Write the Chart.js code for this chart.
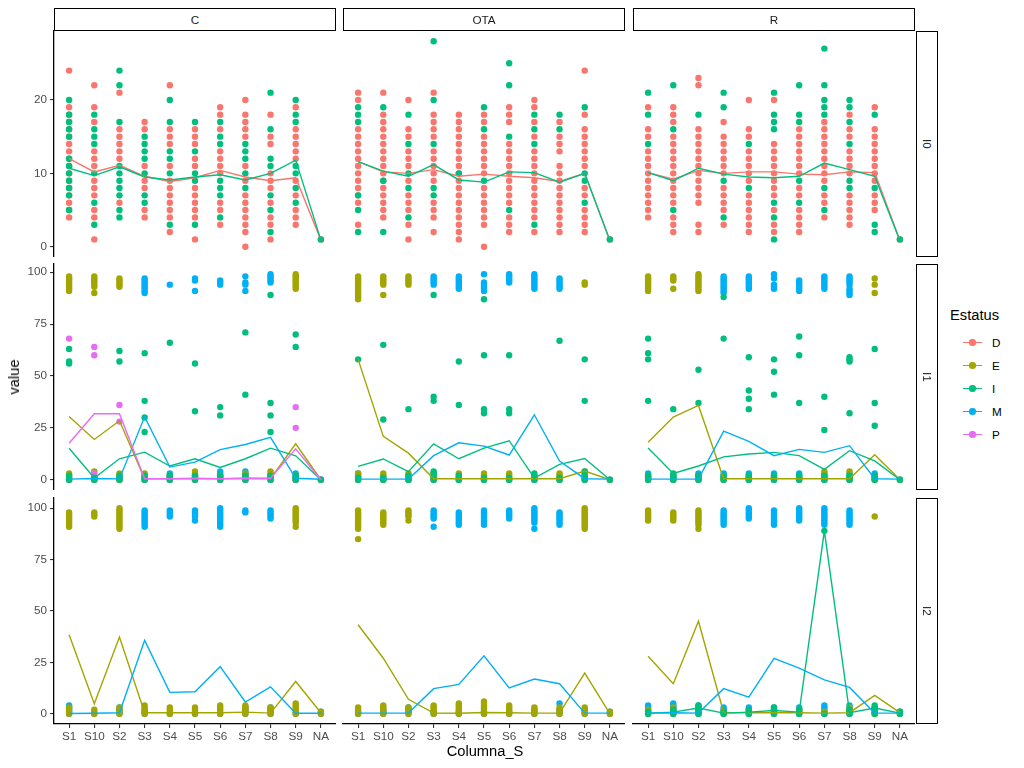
<!DOCTYPE html>
<html><head><meta charset="utf-8">
<script src="https://cdn.jsdelivr.net/npm/chart.js@4.4.0/dist/chart.umd.min.js"></script>
<style>
body{margin:0;background:#fff;width:1024px;height:768px;position:relative;overflow:hidden;font-family:"Liberation Sans",Arial,sans-serif;}
canvas{position:absolute;}
.strip{position:absolute;box-sizing:border-box;border:1.6px solid #000;background:#fff;color:#1a1a1a;font-size:11.7px;display:flex;align-items:center;justify-content:center;}
.vstrip{writing-mode:vertical-rl;}
.title{position:absolute;color:#000;font-size:14.7px;white-space:nowrap;}
.leg{position:absolute;font-size:11.7px;color:#000;}
.kline{position:absolute;height:1.4px;width:19px;}
.kdot{position:absolute;width:6.4px;height:6.4px;border-radius:50%;}
</style></head><body>
<script>
// ---------- categories / facets ----------
const categories = ["S1","S10","S2","S3","S4","S5","S6","S7","S8","S9","NA"];
const columnsF = ["C","OTA","R"];
const rowsF = ["I0","I1","I2"];
const statuses = ["D","E","I","M","P"];
const statusColors = ["#F8766D","#A3A500","#00BF7D","#00B0F6","#E76BF3"];
const yTicksI0 = [0,10,20];
const yTicksPct = [0,25,50,75,100];

// ---------- I0 ----------
const pts_C_I0_D = [[4,5,6,7,8,9,10,11,12,13,14,15,16,17,18,19,24],[1,4,5,7,8,9,11,12,13,17,19,22],[6,12,13,14,15,16,21],[4,5,8,9,11,16,17],[2,4,5,6,7,8,9,11,14,15,16,22],[1,4,5,6,7,8,11,12,14,15,16],[3,5,6,10,11,12,13,16,18,19],[0,2,3,4,5,6,7,9,11,15,16,17,18,20],[1,3,4,6,8,9,10,14,15,18],[3,4,5,7,9,12,13,14,15,16,19],[1]];
const pts_C_I0_I = [[5,7,8,9,10,11,12,15,16,17,18,20],[3,6,10,14,15,16,18],[4,5,7,8,9,10,11,17,22,24],[6,7,10,12,13,14,15],[3,10,12,13,17,20],[3,9,10,13,17],[4,7,8,9,14,15,17],[8,10,12,13,14],[2,5,7,11,12,16,21],[6,8,10,11,17,18,20],[1]];
const mean_C_I0_D = [12.0,10.2,11.1,9.6,8.9,9.4,10.4,9.5,9.0,9.4,0.9];
const mean_C_I0_I = [10.7,9.7,10.9,9.5,9.1,9.5,9.8,9.1,10.0,11.8,0.9];

const pts_OTA_I0_D = [[3,6,7,8,9,10,11,12,13,14,15,16,20,21],[4,5,6,7,8,9,10,11,12,13,14,15,16,17,18,21],[1,3,5,6,7,9,11,12,13,15,16,20],[2,4,5,6,9,10,11,12,13,15,16,17,18,21],[1,2,3,4,5,6,7,8,9,10,11,12,13,14,15,16,17,18],[0,3,4,5,6,7,8,10,11,12,13,14,15,17,18],[2,3,4,6,7,8,9,10,11,12,13,14,17,18,19],[2,4,5,6,7,8,9,10,11,12,13,15,17,19,20],[2,3,4,5,6,7,8,9,10,11,13,14,15,17],[2,3,4,5,7,8,11,12,13,14,15,16,18,24],[1]];
const pts_OTA_I0_I = [[2,5,7,17,18,19],[2,9,19],[4,8,10,14,18],[7,8,14,20,28],[10],[9,16,19],[5,15,22,25],[3,14,16,18],[16,18],[6,9,10,19],[1]];
const mean_OTA_I0_D = [11.6,10.2,10.0,10.5,9.6,9.9,9.6,9.4,8.9,10.0,0.9];
const mean_OTA_I0_I = [11.6,10.3,9.6,11.2,9.1,8.8,10.2,10.1,8.8,10.0,0.8];

const pts_R_I0_D = [[4,5,6,7,8,9,10,11,12,13,15,16,19],[2,3,4,6,7,8,9,10,11,12,13,14,15,17,18,19],[2,3,6,7,8,9,10,11,12,13,14,15,16,22,23],[3,5,6,7,8,10,11,12,13,14,15,17],[2,3,4,5,6,7,9,10,11,12,13,15,16,20],[2,3,5,7,8,9,10,11,12,13,14,20],[2,3,4,5,7,8,10,11,12,13,14,15,16],[4,6,7,9,10,11,12,13,14,15,16,17],[3,4,5,6,7,10,11,12,13,15,16,18],[5,6,7,9,10,11,12,13,14,15,16,19],[1]];
const pts_R_I0_I = [[14,18,21],[5,16,22],[18],[4,9,19,21],[8,14],[1,4,6,16,17,18,21],[6,9,17,18,22],[5,8,18,19,20,22,27],[8,9,14,17,19,20],[2,3,8,18],[1]];
const mean_R_I0_D = [10.1,9.2,10.4,10.0,10.2,10.2,9.9,9.8,10.2,10.1,0.9];
const mean_R_I0_I = [10.1,9.0,10.7,9.9,9.5,9.4,9.6,11.4,10.5,9.6,0.8];

// ---------- I1 ----------
const pts_C_I1_E = [[0,1,2,3,91,92,93,94,95,96,97,98],[0,1,4,90,93,94,95,96,97,98],[0,1,2,3,93,94,95,96,97],[0,1,2,3],[0,1,2],[0,1,2,3,4],[0,1,2],[0,1,2,3],[0,1,2,3,4],[0,1,2,92,93,94,95,96,97,98,99],[0]];
const pts_C_I1_I = [[0,1,2,56,57,63],[0,1],[0,1,2,57,62],[0,1,2,23,30,38,61],[0,1,2,66],[0,1,2,33,56],[0,1,2,31,35],[0,1,2,41,71],[0,1,2,23,31,37,89],[0,1,2,64,70],[0]];
const pts_C_I1_M = [[0],[0,1],[0,1],[0,1,2,90,91,92,93,94,95,96,97],[0,1,2,3,94],[0,1,2,91,96,97],[0,1,2,3,4,94,95,96],[0,1,2,3,4,91,94,95,98],[0,1,2,95,96,97,98,99],[0,1,3],[0]];
const pts_C_I1_P = [[0,68],[3,60,64],[28,36],[0,1],[0,1],[0,1],[0],[0,1],[0,1],[0,25,35],[0]];
const mean_C_I1_E = [30.5,19.4,28.4,0.5,0.5,0.5,0.5,0.5,0.5,17.3,0];
const mean_C_I1_I = [15.2,0.8,10.1,13.3,6.6,10.1,5.9,10.1,15.2,11.5,0];
const mean_C_I1_M = [0.3,0.6,0.4,30.3,6.1,8.5,14.5,17.0,20.4,0.7,0.2];
const mean_C_I1_P = [17.6,31.8,31.8,0.5,0.5,0.7,0.5,0.8,0.7,14.9,0];

const pts_OTA_I1_E = [[0,1,2,3,87,88,89,90,91,92,93,94,95,96,97,98],[0,1,2,3,89,94,95,96,97,98],[0,1,2,3,94,95,96,97,98],[0,1,2,3],[0,1,2,3],[0,1,2,3],[0,1,2,3],[0,1,2],[0,1,2,3],[0,1,2,3,4,94,95],[0]];
const pts_OTA_I1_I = [[0,1,58],[0,1,29,65],[0,1,2,34],[0,1,2,3,4,38,40,89],[0,1,2,36,57],[0,1,32,34,60,87],[0,1,32,34,60],[0,1,2,3],[0,1,67],[0,1,2,4,38,58],[0]];
const pts_OTA_I1_M = [[0,1,2,3],[0],[0],[0,94,95,96,97,98],[0,92,93,94,95,96,97,98],[0,91,92,93,94,95,99],[0,95,96,97,98,99],[0,92,93,94,95,96,97,98,99],[0,92,93,94,95,96,97],[0],[0]];
const mean_OTA_I1_E = [58,20.9,12.8,0.5,0.5,0.5,0.5,0.5,0.5,4.2,0];
const mean_OTA_I1_I = [6.4,10,3.9,17.3,10.1,15.2,18.8,0.8,7.4,10.2,0];
const mean_OTA_I1_M = [0.3,0.3,0.3,11.6,17.8,16.2,11.9,31.3,9,0.5,0.3];

const pts_R_I1_E = [[0,1,2,91,92,93,94,95,96,97,98],[0,1,2,92,96,97,98],[0,1,2,91,92,93,94,95,96,97,98,99],[0,1],[0,1],[0,1],[0,1],[0,1,2,4],[0,1,4],[0,1,90,94,97],[0]];
const pts_R_I1_I = [[0,1,2,38,58,61,68],[0,1,2,3,34],[0,1,2,37,53],[0,1,2,68,88],[0,1,2,34,39,43,59],[0,1,2,41,52,58],[0,1,2,37,60,69],[0,1,2,24,40],[0,1,2,32,57,58,59],[0,1,2,26,37,63],[0]];
const pts_R_I1_M = [[0,1,2,3],[0,1,2],[0,1,2,3],[0,1,2,3,90,91,92,93,94,95,96,97,98],[0,1,2,3,92,93,94,95,96,97,98],[0,1,2,3,92,93,94,97,99],[0,1,2,3,91,92,93,94,95,96],[0,1,2,3,92,93,94,95,96,97,98],[0,1,2,3,89,90,91,92,94,95,96,97,98],[0,1,2,3],[0]];
const mean_R_I1_E = [18.1,30.2,35.8,0.5,0.5,0.5,0.5,0.5,0.5,12,0];
const mean_R_I1_I = [15.3,3,6.6,11,12.4,13.2,11.6,5,14,9.1,0];
const mean_R_I1_M = [0.3,0.3,0.3,23.4,18.5,11.6,14.6,13.2,16.4,0.5,0.3];

// ---------- I2 ----------
const pts_C_I2_E = [[0,1,2,3,91,92,93,94,95,96,97,98],[0,1,2,96,97,98],[0,1,2,3,90,91,92,93,94,95,96,97,98,99,100],[0,1,2,3,4],[0,1,2,3],[0,1,2,3],[0,1,2,3,4],[0,1,2,3,4],[0,1,2,3],[0,1,2,3,4,5,91,93,94,95,96,97,98,99,100],[0,1]];
const pts_C_I2_M = [[0,1,2,3,4],[0],[0,1,2,3],[0,1,2,91,92,93,94,95,96,97,98,99],[0,96,97,98,99],[0,94,96,97,98,99],[0,91,92,93,94,95,96,97,98,99,100],[0,1,2,3,98,99],[0,1,2,3,95,96,97,98,99],[0],[0,1]];
const mean_C_I2_E = [38.4,4.9,37.3,0.5,0.5,0.5,0.5,0.8,0.3,15.7,0.5];
const mean_C_I2_M = [0.1,0.2,0.5,35.7,10.4,10.7,22.9,5.7,13.1,0.2,0.2];

const pts_OTA_I2_E = [[0,1,2,3,85,90,91,92,93,94,95,96,97,98,99],[0,1,2,3,4,92,93,94,95,96,97,98],[0,1,2,3,94,96,97,98,99],[0,1,2,3,4],[0,1,2,3,4,5],[0,1,2,3,4,5,6],[0,1,2,3,4],[0,1,2,3],[0,1,2,3],[0,1,2,3,90,91,92,93,94,95,96,97,98,99,100],[0,1]];
const pts_OTA_I2_M = [[0,1],[0,1,2],[0,1,2,3],[0,1,91,95,96,97,98,99],[0,1,92,93,94,95,96,97,98],[0,1,92,93,94,95,96,97,98,99],[0,1,95,96,97,98,99],[0,1,2,90,93,94,95,96,97,98,99,100],[0,1,2,5,92,93,94,95,96,97,98],[0,1,2],[0,1]];
const mean_OTA_I2_E = [43.3,27,7,0.3,0.2,0.6,0.5,0.3,0.3,19.8,0];
const mean_OTA_I2_M = [0.3,0.3,0.3,12.2,14.3,28.2,12.6,16.9,14.6,0.3,0.3];

const pts_R_I2_E = [[0,1,2,94,95,96,97,98,99],[0,1,2,3,94,95,96,97,98],[0,1,2,3,90,92,93,94,95,96,97,98,99],[0,1],[0,1],[0,1],[0,1,2],[0,1],[0,1,2,3],[0,96],[0,1]];
const pts_R_I2_I = [[0,1],[0,1,2],[0,1,2,3,4],[0,1],[0,1,2],[0,1,2,3],[0,1,2],[0,89],[0,1,2],[0,1,2,3,4],[0,1]];
const pts_R_I2_M = [[0,1,2,3,4],[0,1,2,3,4,5],[0,1,2,3,4],[0,1,2,3,92,93,94,95,96,97,98,99],[0,1,2,3,95,96,97,98,99,100],[0,1,2,3,92,93,94,95,96,97,98,99],[0,1,2,3,94,95,96,97,98,99,100],[0,1,2,3,4,92,93,94,95,96,97,98,99,100],[0,1,2,3,4,92,93,94,95,96,97,98,99],[0,1,2,3],[0,1]];
const mean_R_I2_E = [28,14.6,45,0.5,0.5,0.5,0.5,0.3,0.5,8.9,0.5];
const mean_R_I2_I = [0.3,0.8,2.8,0.3,0.8,1.6,0.8,89,0.5,2.8,0.3];
const mean_R_I2_M = [0.3,0.5,0.3,12.2,8.1,26.9,22.2,16.5,12.8,0.3,0.3];

// ---------- panel table built from the arrays ----------
const panels = [
  [0,0,{D:[pts_C_I0_D,mean_C_I0_D],I:[pts_C_I0_I,mean_C_I0_I]}],
  [1,0,{D:[pts_OTA_I0_D,mean_OTA_I0_D],I:[pts_OTA_I0_I,mean_OTA_I0_I]}],
  [2,0,{D:[pts_R_I0_D,mean_R_I0_D],I:[pts_R_I0_I,mean_R_I0_I]}],
  [0,1,{E:[pts_C_I1_E,mean_C_I1_E],I:[pts_C_I1_I,mean_C_I1_I],M:[pts_C_I1_M,mean_C_I1_M],P:[pts_C_I1_P,mean_C_I1_P]}],
  [1,1,{E:[pts_OTA_I1_E,mean_OTA_I1_E],I:[pts_OTA_I1_I,mean_OTA_I1_I],M:[pts_OTA_I1_M,mean_OTA_I1_M]}],
  [2,1,{E:[pts_R_I1_E,mean_R_I1_E],I:[pts_R_I1_I,mean_R_I1_I],M:[pts_R_I1_M,mean_R_I1_M]}],
  [0,2,{E:[pts_C_I2_E,mean_C_I2_E],M:[pts_C_I2_M,mean_C_I2_M]}],
  [1,2,{E:[pts_OTA_I2_E,mean_OTA_I2_E],M:[pts_OTA_I2_M,mean_OTA_I2_M]}],
  [2,2,{E:[pts_R_I2_E,mean_R_I2_E],I:[pts_R_I2_I,mean_R_I2_I],M:[pts_R_I2_M,mean_R_I2_M]}]
];

// ---------- layout (style only) ----------
const colLeft = [54,343,633], colW = 282;
const rowTop = [31,264,498], rowH = 226;
const YW = 44, XH = 34, PT = 10, PR = 12;
const rowRange = [[-1.4,29.4],[-4.95,103.95],[-5,105]];
const FONT = "'Liberation Sans', Arial, sans-serif";
const pointOrder = {D:20,M:19,E:18,P:17,I:16};
const lineOrder = {D:5,E:4,I:3,M:2,P:1};

function colorOf(s){ return statusColors[statuses.indexOf(s)]; }

function makePanel(ci, ri, series){
  const w = colW+YW+PR, h = rowH+PT+XH;
  const cv = document.createElement('canvas');
  cv.width = w; cv.height = h;
  cv.style.left = (colLeft[ci]-YW)+'px'; cv.style.top = (rowTop[ri]-PT)+'px';
  cv.style.width = w+'px'; cv.style.height = h+'px';
  document.body.appendChild(cv);
  const datasets = [];
  Object.keys(series).forEach(s=>{
    const [pts, means] = series[s];
    const pdata = [];
    pts.forEach((vals,i)=>vals.forEach(v=>pdata.push({x:i,y:v})));
    datasets.push({data:pdata, showLine:false, pointRadius:3.2, pointBorderWidth:0, pointBackgroundColor:colorOf(s), borderColor:colorOf(s), order:pointOrder[s]});
    datasets.push({data:means.map((v,i)=>({x:i,y:v})), showLine:true, pointRadius:0, borderWidth:1.4, borderColor:colorOf(s), fill:false, tension:0, order:lineOrder[s]});
  });
  const left = ci===0, bottom = ri===2;
  const yt = ri===0 ? yTicksI0 : yTicksPct;
  new Chart(cv, {
    type:'line',
    data:{datasets},
    options:{
      responsive:false, animation:false, devicePixelRatio:1,
      layout:{padding:{top:PT,right:PR,left:0,bottom:0}},
      plugins:{legend:{display:false}, tooltip:{enabled:false}},
      scales:{
        x:{type:'linear', bounds:'data', min:-0.6, max:10.6,
          afterBuildTicks:s=>{s.ticks = categories.map((c,i)=>({value:i}));},
          afterFit:s=>{s.height = XH; s.paddingLeft=0; s.paddingRight=0;},
          ticks:{display:bottom, autoSkip:false, maxRotation:0, padding:2, color:'#4d4d4d', font:{family:FONT,size:11.7}, callback:v=>categories[v]},
          grid:{display:bottom, drawOnChartArea:false, drawTicks:true, tickLength:4, color:'#333333', lineWidth:1.1},
          border:{display:bottom, color:'#000', width:1.3}},
        y:{type:'linear', bounds:'data', min:rowRange[ri][0], max:rowRange[ri][1],
          afterBuildTicks:s=>{s.ticks = yt.map(v=>({value:v}));},
          afterFit:s=>{s.width = YW; s.paddingTop=0; s.paddingBottom=0;},
          ticks:{display:left, padding:3, color:'#4d4d4d', font:{family:FONT,size:11.7}},
          grid:{display:left, drawOnChartArea:false, drawTicks:true, tickLength:4, color:'#333333', lineWidth:1.1},
          border:{display:left, color:'#000', width:1.3}}
      }
    }
  });
}
panels.forEach(p=>makePanel(p[0],p[1],p[2]));

// strips
columnsF.forEach((c,i)=>{
  const d=document.createElement('div'); d.className='strip'; d.textContent=c;
  Object.assign(d.style,{left:colLeft[i]+'px',top:'8px',width:colW+'px',height:'23px'});
  document.body.appendChild(d);
});
rowsF.forEach((r,i)=>{
  const d=document.createElement('div'); d.className='strip vstrip'; d.textContent=r;
  Object.assign(d.style,{left:(colLeft[2]+colW+1)+'px',top:rowTop[i]+'px',width:'22px',height:rowH+'px'});
  document.body.appendChild(d);
});
// axis titles
const yt = document.createElement('div'); yt.className='title'; yt.textContent='value';
Object.assign(yt.style,{left:'14px',top:'377px',transform:'translate(-50%,-50%) rotate(-90deg)'});
document.body.appendChild(yt);
const xt = document.createElement('div'); xt.className='title'; xt.textContent='Columna_S';
Object.assign(xt.style,{left:'485px',top:'751px',transform:'translate(-50%,-50%)'});
document.body.appendChild(xt);
// legend
const lt = document.createElement('div'); lt.className='title'; lt.textContent='Estatus';
Object.assign(lt.style,{left:'950px',top:'307px'});
document.body.appendChild(lt);
statuses.forEach((s,i)=>{
  const cy = 342.5 + i*23;
  const l=document.createElement('div'); l.className='kline';
  Object.assign(l.style,{left:'963px',top:(cy-0.7)+'px',background:statusColors[i]});
  const dt=document.createElement('div'); dt.className='kdot';
  Object.assign(dt.style,{left:(972.5-3.2)+'px',top:(cy-3.2)+'px',background:statusColors[i]});
  const t=document.createElement('div'); t.className='leg'; t.textContent=s;
  Object.assign(t.style,{left:'992px',top:(cy-7)+'px'});
  document.body.append(l,dt,t);
});
</script>
</body></html>
